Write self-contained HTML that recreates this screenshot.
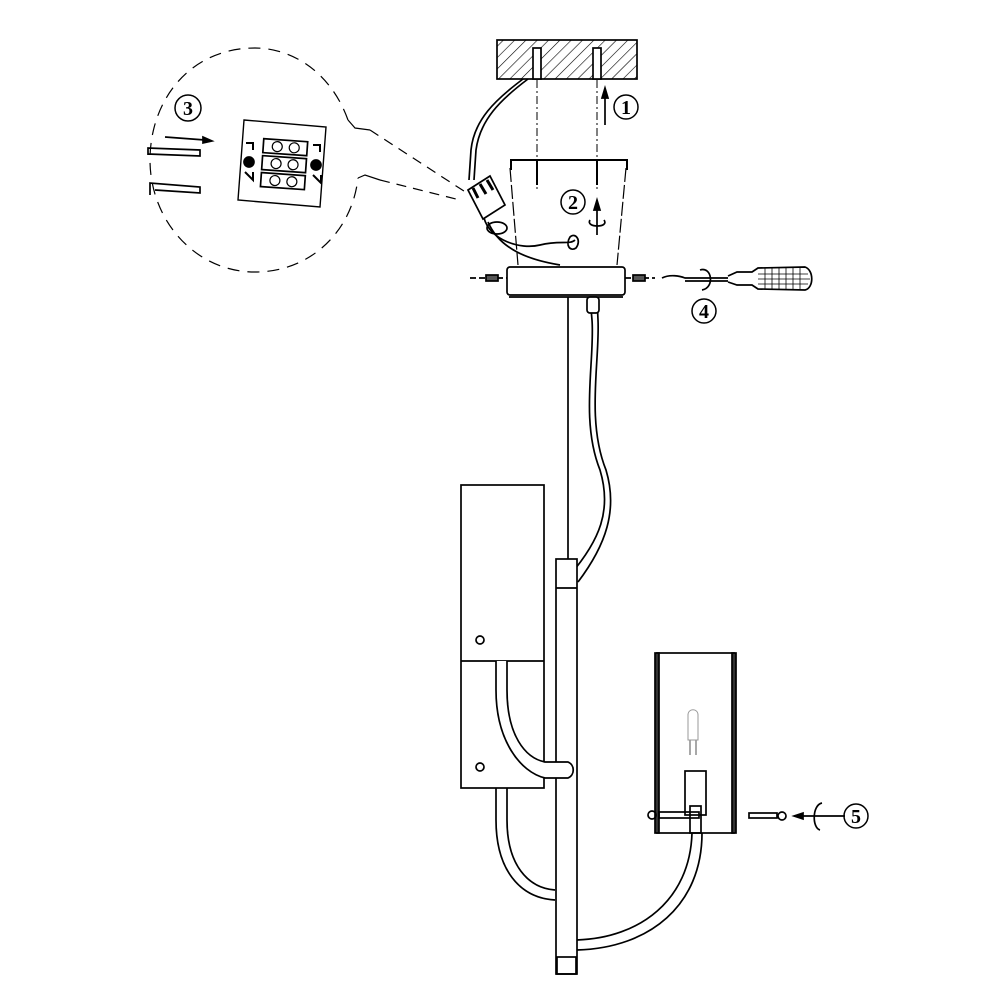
<!DOCTYPE html>
<html><head><meta charset="utf-8"><style>html,body{margin:0;padding:0;background:#fff}svg{display:block}</style></head>
<body>
<svg width="1000" height="1000" viewBox="0 0 1000 1000" xmlns="http://www.w3.org/2000/svg" font-family="Liberation Serif, serif">
<defs>
<pattern id="h" width="8" height="8" patternUnits="userSpaceOnUse" patternTransform="rotate(45)">
<line x1="0" y1="0" x2="0" y2="8" stroke="#000" stroke-width="1.2"/></pattern>
</defs>
<g fill="none" stroke="#000" stroke-width="1.7">
<rect x="497" y="40" width="140" height="39" fill="url(#h)"/>
<rect x="533" y="48" width="8" height="31" fill="#fff"/>
<rect x="593" y="48" width="8" height="31" fill="#fff"/>
<line x1="537" y1="80" x2="537" y2="190" stroke-dasharray="8,3,2,3" stroke-width="1"/>
<line x1="597" y1="80" x2="597" y2="190" stroke-dasharray="8,3,2,3" stroke-width="1"/>
<line x1="605" y1="125" x2="605" y2="95"/><path d="M602,98 L605,88 L608,98Z" fill="#000"/>
<path d="M528,79 C500,100 480,120 476,150 L474,180"/>
<path d="M523,79 C495,100 474,120 471,150 L469,180"/>
<path d="M511,170 L511,160 L627,160 L627,170" stroke-width="2"/>
<path d="M510,168 L518,265 M626,168 L617,265" stroke-dasharray="14,3" stroke-width="1.2"/>
<path d="M537,160 L537,185 M597,160 L597,185" stroke-width="2"/>
<rect x="507" y="267" width="118" height="28" rx="3"/>
<line x1="509" y1="297" x2="623" y2="297"/>
<line x1="470" y1="278" x2="507" y2="278" stroke-dasharray="6,3"/>
<line x1="625" y1="278" x2="655" y2="278" stroke-dasharray="6,3"/>
<rect x="486" y="275" width="12" height="6" fill="#555"/>
<rect x="633" y="275" width="12" height="6" fill="#555"/>
<path d="M468,190 L490,176 L505,205 L483,219Z" fill="#fff"/>
<path d="M473,188 L478,198 M480,184 L486,194 M487,180 L493,190" stroke-width="3"/>
<path d="M484,218 C490,240 520,250 540,245 C560,240 570,245 575,240"/>
<path d="M488,222 C500,250 530,260 560,265"/>
<ellipse cx="497" cy="228" rx="10" ry="6"/>
<path d="M570,237 C575,232 582,240 576,248 C570,252 565,245 570,237Z"/>
<line x1="568" y1="297" x2="568" y2="560"/>
<path d="M590,297 L592,320 C595,360 580,420 600,470 C612,510 600,540 570,575"/>
<path d="M597,297 L598,320 C600,360 586,420 606,470 C618,510 606,545 578,582"/>
<rect x="587" y="297" width="12" height="16" rx="3" fill="#fff"/>
<path d="M348,120 C330,70 290,48 255,48 C190,48 150,100 150,160 C150,220 195,272 255,272 C310,272 352,232 358,178" stroke-dasharray="12,8" stroke-width="1.2"/>
<path d="M348,120 L355,128 L370,130" stroke-width="1.2"/>
<path d="M358,178 L365,175 L380,180" stroke-width="1.2"/>
<line x1="370" y1="130" x2="470" y2="195" stroke-dasharray="10,7" stroke-width="1.2"/>
<line x1="380" y1="180" x2="460" y2="200" stroke-dasharray="10,7" stroke-width="1.2"/>
<path d="M244,120 L326,127 L320,207 L238,200Z" stroke-width="1.4"/>
<g transform="rotate(4 282 165)">
<rect x="262" y="140" width="44" height="14"/>
<rect x="262" y="157" width="44" height="14"/>
<rect x="262" y="174" width="44" height="14"/>
<g stroke-width="1.2">
<circle cx="276" cy="147" r="5"/><circle cx="293" cy="147" r="5"/>
<circle cx="276" cy="164" r="5"/><circle cx="293" cy="164" r="5"/>
<circle cx="276" cy="181" r="5"/><circle cx="293" cy="181" r="5"/></g></g>
<path d="M246,143 L253,143 L253,150 M313,145 L320,145 L320,152 M245,172 L253,180 L253,172 M313,175 L321,183 L321,175" stroke-width="2"/>
<circle cx="249" cy="162" r="5" fill="#000"/><circle cx="316" cy="165" r="5" fill="#000"/>
<path d="M148,155 L148,148 L200,150 L200,156 L148,154"/>
<path d="M150,195 L150,183 L200,187 L200,193 L155,190"/>
<line x1="165" y1="137" x2="205" y2="140"/><path d="M203,137 L212,141 L203,143Z" fill="#000"/>
<path d="M662,278 C670,274 680,276 685,278 L728,278 M685,281 L728,281"/>
<path d="M700,270 C712,266 715,288 702,290"/>
<path d="M728,276 L737,272 L752,272 L758,268 L805,267 C814,270 814,288 805,290 L758,289 L752,285 L737,285 L728,282"/>
<g stroke-width="0.8"><line x1="765" y1="268" x2="765" y2="289"/><line x1="772" y1="268" x2="772" y2="289"/><line x1="779" y1="268" x2="779" y2="289"/><line x1="786" y1="268" x2="786" y2="289"/><line x1="793" y1="268" x2="793" y2="289"/><line x1="800" y1="268" x2="800" y2="289"/>
<line x1="758" y1="274" x2="808" y2="274"/><line x1="758" y1="279" x2="810" y2="279"/><line x1="758" y1="284" x2="808" y2="284"/></g>
<line x1="597" y1="205" x2="597" y2="235"/><path d="M594,210 L597,200 L600,210Z" fill="#000"/>
<path d="M590,220 C585,228 610,228 604,220"/>
<rect x="461" y="485" width="83" height="303"/>
<line x1="461" y1="661" x2="544" y2="661"/>
<circle cx="480" cy="640" r="4"/><circle cx="480" cy="767" r="4"/>
<path d="M496,788 L496,820 C496,870 520,898 555,900 M507,788 L507,820 C507,865 528,888 555,890"/>
<rect x="556" y="559" width="21" height="415" fill="#fff"/>
<line x1="556" y1="588" x2="577" y2="588"/>
<rect x="557" y="957" width="19" height="17"/>
<path d="M496,661 L496,690 C496,740 520,772 545,778 L568,778 C575,775 575,765 568,762 L545,762 C525,758 507,735 507,690 L507,661" fill="#fff"/>
<path d="M577,940 C640,938 690,900 692,833 M577,950 C650,948 702,905 702,833"/>
<rect x="657" y="653" width="77" height="180"/>
<rect x="655" y="653" width="4" height="180" fill="#333"/>
<rect x="732" y="653" width="4" height="180" fill="#333"/>
<rect x="685" y="771" width="21" height="44"/>
<rect x="690" y="806" width="11" height="27"/>
<rect x="659" y="812" width="40" height="6"/>
<circle cx="652" cy="815" r="4"/>
<path d="M688,740 L688,715 C688,708 698,708 698,715 L698,740Z" stroke="#999" stroke-width="1"/>
<path d="M690,740 L690,755 M696,740 L696,755" stroke="#999"/>
<rect x="749" y="813" width="28" height="5"/>
<circle cx="782" cy="816" r="4"/>
<line x1="795" y1="816" x2="845" y2="816"/><path d="M803,813 L794,816 L803,819Z" fill="#000"/>
<path d="M822,803 C812,805 812,828 820,830"/>
</g>
<g font-size="20" font-weight="bold" text-anchor="middle">
<circle cx="626" cy="107" r="12" fill="none" stroke="#000" stroke-width="1.5"/><text x="626" y="114">1</text>
<circle cx="573" cy="202" r="12" fill="none" stroke="#000" stroke-width="1.5"/><text x="573" y="209">2</text>
<circle cx="188" cy="108" r="13" fill="none" stroke="#000" stroke-width="1.5"/><text x="188" y="115">3</text>
<circle cx="704" cy="311" r="12" fill="none" stroke="#000" stroke-width="1.5"/><text x="704" y="318">4</text>
<circle cx="856" cy="816" r="12" fill="none" stroke="#000" stroke-width="1.5"/><text x="856" y="823">5</text>
</g>
</svg>
</body></html>
